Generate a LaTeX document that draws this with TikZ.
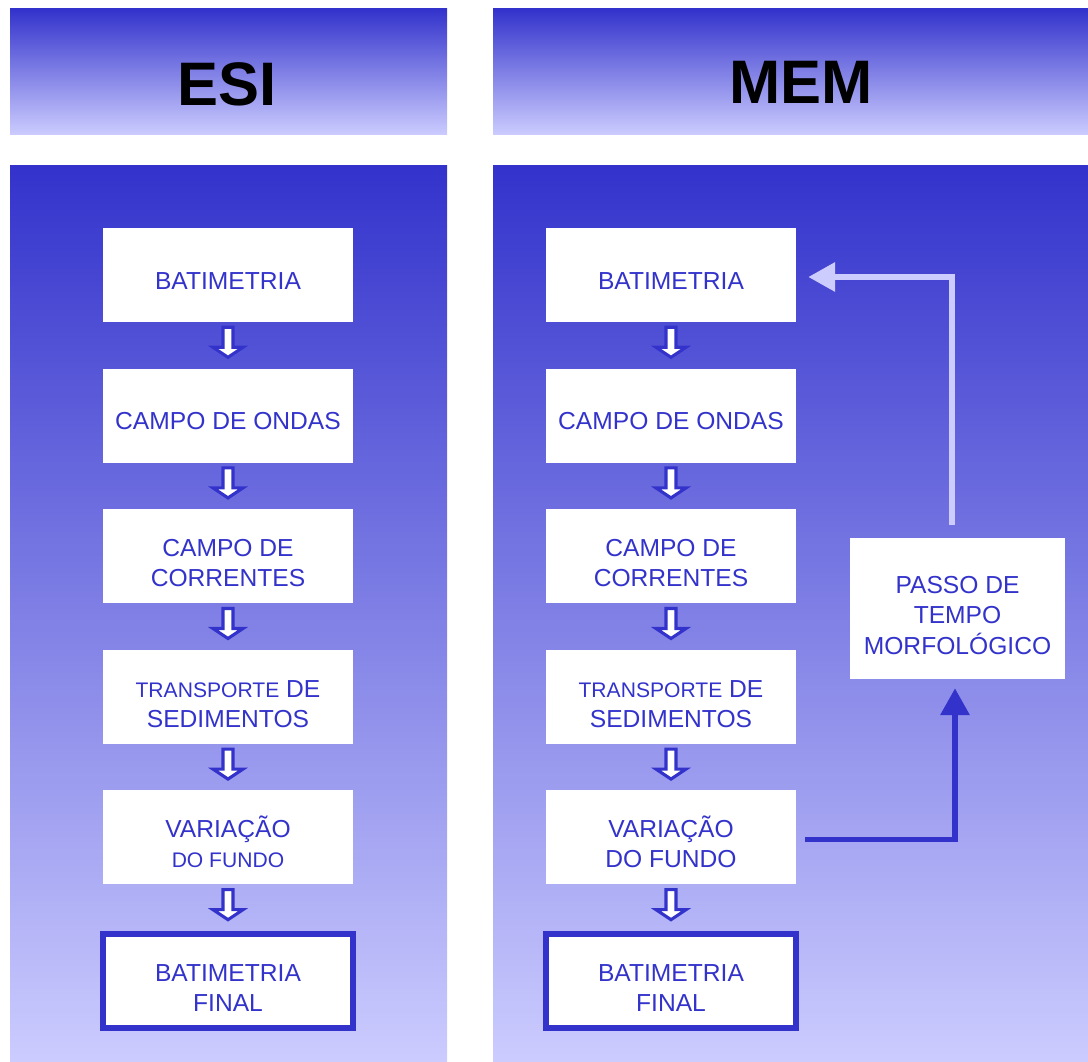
\documentclass[tikz,border=0pt]{standalone}
\usepackage{fontspec}
\setmainfont{Liberation Sans}
\usetikzlibrary{arrows.meta,positioning,calc}
\definecolor{escuro}{HTML}{3333CC}
\definecolor{claro}{HTML}{CCCCFF}
\newcommand{\topo}{\rule{0pt}{22pt}}

\begin{document}
\begin{tikzpicture}[x=0.025cm,y=-0.025cm,node distance=1.15cm,
    etapa/.style={fill=white,minimum width=6.25cm,minimum height=2.35cm,inner sep=0pt,
      align=center,text=escuro,font=\fontsize{17.5}{21.5}\selectfont,
      execute at begin node={\rule{0pt}{20.5pt}}},
    final/.style={etapa,draw=escuro,line width=4.3pt},
    titulo/.style={font=\bfseries\fontsize{43.7}{50}\selectfont,text=black},
    seta/.pic={\draw[escuro,fill=white,line width=2.2pt,line join=miter]
      (-5,-15) -- (5,-15) -- (5,5) -- (15,5) -- (0,15) -- (-15,5) -- (-5,5) -- cycle;},
    volta/.style={claro,line width=4pt,-{Triangle[length=19pt,width=20pt]}},
    avanco/.style={escuro,line width=4pt,-{Triangle[length=19pt,width=20pt]}}]
  \useasboundingbox (0,0) rectangle (1088,1062);
  % fundos
  \shade[top color=escuro,middle color=claro!60!escuro,bottom color=claro] (10,9) rectangle (447,135);
  \shade[top color=escuro,middle color=claro!60!escuro,bottom color=claro] (493,9) rectangle (1088,135);
  \shade[top color=escuro,bottom color=claro] (10,166) rectangle (447,1062);
  \shade[top color=escuro,bottom color=claro] (493,166) rectangle (1088,1062);
  \node (tesi) [titulo] at (227,84) {ESI};
  \node (tmem) [titulo] at (801,82) {MEM};
  % coluna ESI
  \node (e1) [etapa] at (228,275) {BATIMETRIA};
  \node (e2) [etapa,below=of e1] {CAMPO DE ONDAS};
  \node (e3) [etapa,below=of e2] {\topo CAMPO DE\\CORRENTES};
  \node (e4) [etapa,below=of e3] {\topo{\fontsize{15}{21.5}\selectfont TRANSPORTE} DE\\SEDIMENTOS};
  \node (e5) [etapa,below=of e4] {\topo VARIAÇÃO\\{\fontsize{15}{21.5}\selectfont DO FUNDO}};
  \node (e6) [final,below=of e5] {\topo BATIMETRIA\\FINAL};
  % coluna MEM
  \node (m1) [etapa] at (671,275) {BATIMETRIA};
  \node (m2) [etapa,below=of m1] {CAMPO DE ONDAS};
  \node (m3) [etapa,below=of m2] {\topo CAMPO DE\\CORRENTES};
  \node (m4) [etapa,below=of m3] {\topo{\fontsize{15}{21.5}\selectfont TRANSPORTE} DE\\SEDIMENTOS};
  \node (m5) [etapa,below=of m4] {\topo VARIAÇÃO\\DO FUNDO};
  \node (m6) [final,below=of m5] {\topo BATIMETRIA\\FINAL};
  \node (mp) [etapa,minimum width=5.375cm,minimum height=3.525cm] at (957.5,608.5)
    {\topo PASSO DE\\TEMPO\\MORFOLÓGICO};
  % setas entre etapas
  \foreach \a/\b in {1/2,2/3,3/4,4/5,5/6} {
    \pic at ($(e\a.south)!0.5!(e\b.north)+(0,-3)$) {seta};
    \pic at ($(m\a.south)!0.5!(m\b.north)+(0,-3)$) {seta};
  }
  \draw[avanco] ($(m5.east)+(9,2)$) -| ($(mp.south)+(-2.5,9)$);
  \draw[volta] ($(mp.north)+(-5.5,-13)$) |- ($(m1.east)+(12,2)$);
\end{tikzpicture}
\end{document}
